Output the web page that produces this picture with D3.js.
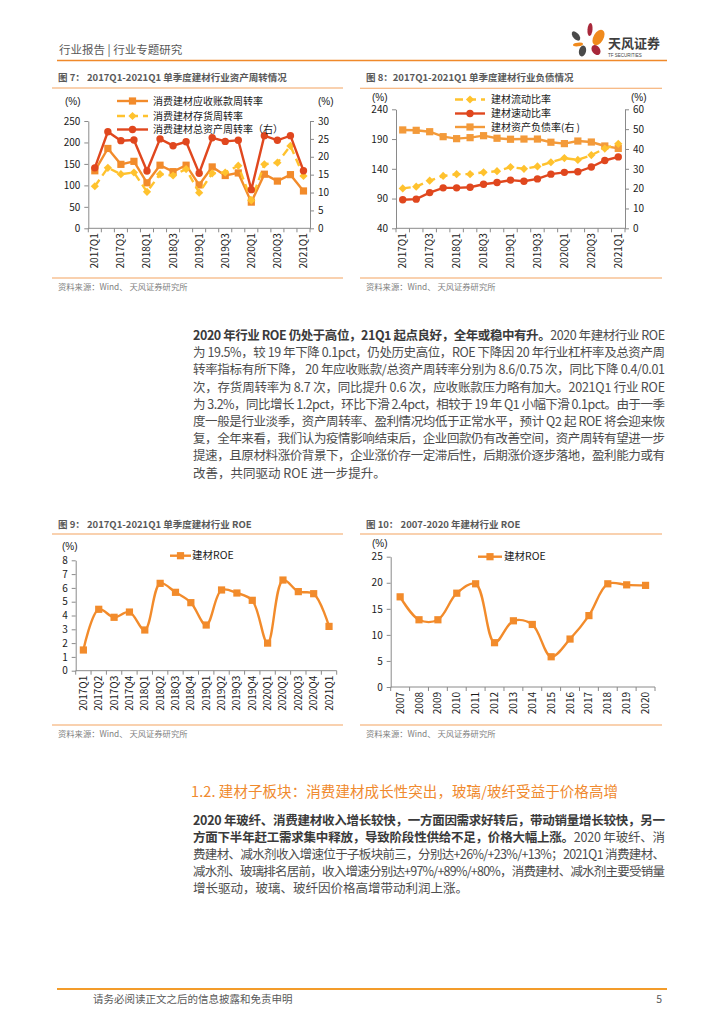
<!DOCTYPE html>
<html>
<head>
<meta charset="utf-8">
<script src="https://cdn.jsdelivr.net/npm/d3@7"></script>
<style>
  body { margin: 0; background: #fff; }
  svg text { font-family: "Noto Sans CJK SC", "Liberation Sans", sans-serif; }
  .num text, text.num { font-family: "Liberation Sans", Arial, sans-serif; }
</style>
</head>
<body>
<svg id="page" width="724" height="1024"></svg>
<script>
// ---- data ----
const quarters = ["2017Q1","2017Q2","2017Q3","2017Q4","2018Q1","2018Q2","2018Q3","2018Q4",
  "2019Q1","2019Q2","2019Q3","2019Q4","2020Q1","2020Q2","2020Q3","2020Q4","2021Q1"];
const years = ["2007","2008","2009","2010","2011","2012","2013","2014","2015","2016","2017","2018","2019","2020"];

// 图7 资产周转
const arTurnover = [134,186,149,156,106,147,132,147,101,143,123,129,61,126,110,125,87];
const invTurnover = [98,141,126,130,85,126,123,138,83,128,130,146,65,149,153,192,122];
const assetTurnover = [16.9,27.0,24.5,24.7,16.0,25.0,23.1,24.2,15.4,25.3,24.3,24.6,10.8,25.9,24.6,25.9,16.1];
const ticks7L = [0,50,100,150,200,250];
const ticks7R = [0,5,10,15,20,25,30];

// 图8 负债
const currentRatio = [107,110,120,128,131,131,134,136,143,140,144,151,158,155,163,174,182];
const quickRatio = [88,89,100,108,108,109,114,117,121,119,123,131,134,135,143,154,160];
const debtRatio = [49.6,49.4,48.7,46.2,45.2,45.7,46.7,45.4,44.9,45.0,45.0,43.4,42.7,44.0,43.5,41.5,40.3];
const ticks8L = [40,90,140,190,240];
const ticks8R = [0,10,20,30,40,50,60];

// 图9 单季度ROE
const roeQuarter = [1.5,4.45,3.87,4.25,2.95,6.33,5.68,4.93,3.31,5.85,5.63,5.10,2.0,6.57,5.73,5.58,3.21];
const ticks9 = [0,1,2,3,4,5,6,7,8];

// 图10 年度ROE
const roeYear = [17.3,12.9,12.9,18.0,19.8,8.5,12.7,12.0,5.8,9.2,13.7,19.8,19.6,19.5];
const ticks10 = [0,5,10,15,20,25];

const para1 = [
  [["b","2020 年行业 ROE 仍处于高位，21Q1 起点良好，全年或稳中有升。"],["n","2020 年建材行业 ROE"]],
  [["n","为 19.5%，较 19 年下降 0.1pct，仍处历史高位，ROE 下降因 20 年行业杠杆率及总资产周"]],
  [["n","转率指标有所下降，  20 年应收账款/总资产周转率分别为 8.6/0.75 次，同比下降 0.4/0.01"]],
  [["n","次，存货周转率为 8.7 次，同比提升 0.6 次，应收账款压力略有加大。2021Q1 行业 ROE"]],
  [["n","为 3.2%，同比增长 1.2pct，环比下滑 2.4pct，相较于 19 年 Q1 小幅下滑 0.1pct。由于一季"]],
  [["n","度一般是行业淡季，资产周转率、盈利情况均低于正常水平，预计 Q2 起 ROE 将会迎来恢"]],
  [["n","复，全年来看，我们认为疫情影响结束后，企业回款仍有改善空间，资产周转有望进一步"]],
  [["n","提速，且原材料涨价背景下，企业涨价存一定滞后性，后期涨价逐步落地，盈利能力或有"]],
  [["n","改善，共同驱动 ROE 进一步提升。"]]
];
const para2 = [
  [["b","2020 年玻纤、消费建材收入增长较快，一方面因需求好转后，带动销量增长较快，另一"]],
  [["b","方面下半年赶工需求集中释放，导致阶段性供给不足，价格大幅上涨。"],["n","2020 年玻纤、消"]],
  [["n","费建材、减水剂收入增速位于子板块前三，分别达+26%/+23%/+13%；2021Q1 消费建材、"]],
  [["n","减水剂、玻璃排名居前，收入增速分别达+97%/+89%/+80%，消费建材、减水剂主要受销量"]],
  [["n","增长驱动，玻璃、玻纤因价格高增带动利润上涨。"]]
];

const ORANGE = "#F28B2B", YELLOW = "#FFC22E", RED = "#E0471E";
const AXIS = "#8a8a8a", LINE_O = "#F4A460";

const svg = d3.select("#page");
svg.append("rect").attr("width", 724).attr("height", 1024).attr("fill", "#fff");

// ---- header ----
svg.append("text").attr("x", 59).attr("y", 54).attr("font-size", 11.5).attr("fill", "#595959")
  .text("行业报告 | 行业专题研究");
svg.append("line").attr("x1", 57).attr("x2", 667).attr("y1", 60.5).attr("y2", 60.5)
  .attr("stroke", "#F0892A").attr("stroke-width", 1.6);

const logo = svg.append("g");
[[590,29.5,2.5,6.5,5,"#A8283A"],[598.5,37.5,5,8.5,30,"#F08A1C"],[576,36,3,5.5,-40,"#4a4a4a"],
 [578,44.5,5,1.8,-5,"#F08A1C"],[582.5,51,3.5,5.5,15,"#4a4a4a"],[596,50,4,5.5,-35,"#A8283A"]]
  .forEach(p => {
    logo.append("ellipse").attr("cx", 0).attr("cy", 0).attr("rx", p[2]).attr("ry", p[3])
      .attr("fill", p[5]).attr("transform", `translate(${p[0]},${p[1]}) rotate(${p[4]})`);
  });
svg.append("text").attr("x", 608).attr("y", 48).attr("font-size", 13).attr("font-weight", 700)
  .attr("fill", "#3f3f3f").text("天风证券");
svg.append("text").attr("x", 608).attr("y", 57).attr("font-size", 4.5).attr("fill", "#3f3f3f")
  .attr("class", "num").text("TF SECURITIES");

// ---- footer ----
svg.append("line").attr("x1", 57).attr("x2", 667).attr("y1", 989).attr("y2", 989)
  .attr("stroke", "#F39C2A").attr("stroke-width", 2);
svg.append("text").attr("x", 93).attr("y", 1003).attr("font-size", 10.5).attr("fill", "#595959")
  .text("请务必阅读正文之后的信息披露和免责申明");
svg.append("text").attr("x", 662).attr("y", 1003).attr("font-size", 10.5).attr("fill", "#595959")
  .attr("text-anchor", "end").text("5");

// ---- helpers ----
function frame(x0, x1, titleY, lineY, bottomY, title) {
  svg.append("text").attr("x", x0 + 6).attr("y", titleY).attr("font-size", 9.5)
    .attr("font-weight", 700).attr("fill", "#595959").text(title);
  svg.append("line").attr("x1", x0).attr("x2", x1).attr("y1", lineY).attr("y2", lineY)
    .attr("stroke", LINE_O).attr("stroke-width", 1.1);
  svg.append("line").attr("x1", x0).attr("x2", x1).attr("y1", bottomY).attr("y2", bottomY)
    .attr("stroke", LINE_O).attr("stroke-width", 1.1);
  svg.append("text").attr("x", x0 + 6).attr("y", bottomY + 12).attr("font-size", 8.3)
    .attr("fill", "#7f7f7f").text("资料来源：Wind、 天风证券研究所");
}

function styleAxis(g) {
  g.selectAll(".domain").attr("stroke", AXIS).attr("stroke-width", 1);
  g.selectAll(".tick line").attr("stroke", AXIS);
  g.selectAll("text").attr("font-size", 10).attr("fill", "#1a1a1a")
    .attr("font-family", "Liberation Sans, Arial, sans-serif");
}

function yAxis(scale, ticks, x, side) {
  const ax = (side === "left" ? d3.axisLeft(scale) : d3.axisRight(scale))
    .tickValues(ticks).tickSize(4).tickPadding(4).tickSizeOuter(0);
  const g = svg.append("g").attr("transform", `translate(${x},0)`).call(ax);
  styleAxis(g);
  return g;
}

function xAxis(band, y, every) {
  const ax = d3.axisBottom(band).tickSize(0).tickPadding(0)
    .tickFormat((d, i) => (i % every === 0 ? d : ""));
  const g = svg.append("g").attr("transform", `translate(0,${y})`).call(ax);
  styleAxis(g);
  g.selectAll(".domain").remove();
  g.append("line").attr("x1", band.range()[0]).attr("x2", band.range()[1])
    .attr("stroke", AXIS);
  g.selectAll(".tick text").attr("transform", "rotate(-90)").attr("text-anchor", "end")
    .attr("x", -5).attr("y", 0).attr("dy", "0.35em");
  // category boundary ticks
  const n = band.domain().length;
  d3.range(n + 1).forEach(i => {
    const xx = band.range()[0] + i * band.step();
    g.append("line").attr("x1", xx).attr("x2", xx).attr("y1", 0).attr("y2", 4).attr("stroke", AXIS);
  });
}

function marker(g, type, x, y, color) {
  if (type === "square") {
    g.append("rect").attr("x", x - 3.6).attr("y", y - 3.6).attr("width", 7.2).attr("height", 7.2)
      .attr("fill", color);
  } else if (type === "circle") {
    g.append("circle").attr("cx", x).attr("cy", y).attr("r", 3.7).attr("fill", color);
  } else {
    g.append("rect").attr("x", -2.9).attr("y", -2.9).attr("width", 5.8).attr("height", 5.8)
      .attr("fill", color).attr("transform", `translate(${x},${y}) rotate(45)`);
  }
}

function series(band, yScale, values, color, type, dashed, curve) {
  const g = svg.append("g");
  const cx = (d, i) => band(band.domain()[i]) + band.bandwidth() / 2;
  const line = d3.line().x(cx).y(d => yScale(d)).curve(curve || d3.curveLinear);
  g.append("path").attr("d", line(values)).attr("fill", "none").attr("stroke", color)
    .attr("stroke-width", 2.4).attr("stroke-dasharray", dashed ? "8,5" : null);
  values.forEach((v, i) => marker(g, type, cx(v, i), yScale(v), color));
}

function legendItem(x1, x2, y, tx, label, color, type, dashed, fs) {
  const g = svg.append("g");
  g.append("line").attr("x1", x1).attr("x2", x2).attr("y1", y).attr("y2", y)
    .attr("stroke", color).attr("stroke-width", 2.4).attr("stroke-dasharray", dashed ? "8,5" : null);
  marker(g, type, (x1 + x2) / 2, y, color);
  g.append("text").attr("x", tx).attr("y", y).attr("dy", "0.36em").attr("font-size", fs || 10)
    .attr("fill", "#1a1a1a").text(label);
}

function unit(x, y, anchor) {
  svg.append("text").attr("x", x).attr("y", y).attr("font-size", 10).attr("fill", "#1a1a1a")
    .attr("text-anchor", anchor || "start").attr("class", "num").text("(%)");
}

// ---- 图7 ----
frame(52, 343, 81, 88, 278, "图 7：  2017Q1-2021Q1 单季度建材行业资产周转情况");
const x7 = d3.scaleBand().domain(quarters).range([88.3, 310]);
const yL7 = d3.scaleLinear().domain([0, 250]).range([228.3, 121]);
const yR7 = d3.scaleLinear().domain([0, 30]).range([228.3, 121]);
yAxis(yL7, ticks7L, 88.3, "left");
yAxis(yR7, ticks7R, 310, "right");
xAxis(x7, 228.3, 2);
unit(65, 105); unit(318, 105);
series(x7, yL7, arTurnover, ORANGE, "square", false);
series(x7, yL7, invTurnover, YELLOW, "diamond", true);
series(x7, yR7, assetTurnover, RED, "circle", false);
legendItem(117, 148, 101, 153, "消费建材应收账款周转率", ORANGE, "square", false);
legendItem(117, 148, 116, 153, "消费建材存货周转率", YELLOW, "diamond", true);
legendItem(117, 148, 129.5, 153, "消费建材总资产周转率（右）", RED, "circle", false);

// ---- 图8 ----
frame(360, 662, 81, 88.3, 278, "图 8：2017Q1-2021Q1 单季度建材行业负债情况");
const x8 = d3.scaleBand().domain(quarters).range([396, 625]);
const yL8 = d3.scaleLinear().domain([40, 240]).range([228.3, 109.3]);
const yR8 = d3.scaleLinear().domain([0, 60]).range([228.3, 109.3]);
yAxis(yL8, ticks8L, 396, "left");
yAxis(yR8, ticks8R, 625, "right");
xAxis(x8, 228.3, 2);
unit(372, 100.5); unit(631, 100.5);
series(x8, yR8, debtRatio, "#F39A3A", "square", false);
series(x8, yL8, currentRatio, YELLOW, "diamond", true);
series(x8, yL8, quickRatio, RED, "circle", false);
legendItem(455, 485, 99.5, 491, "建材流动比率", YELLOW, "diamond", true);
legendItem(455, 485, 113.5, 491, "建材速动比率", RED, "circle", false);
legendItem(455, 485, 127, 491, "建材资产负债率(右 )", "#F39A3A", "square", false);

// ---- 正文1 ----
function paragraph(lines, y0, dy) {
  lines.forEach((parts, i) => {
    const t = svg.append("text").attr("x", 193).attr("y", y0 + i * dy).attr("font-size", 12.5);
    parts.forEach(p => {
      t.append("tspan").attr("font-weight", p[0] === "b" ? 700 : 400)
        .attr("fill", p[0] === "b" ? "#3a3a3a" : "#4d4d4d").text(p[1]);
    });
    if (i < lines.length - 1) t.attr("textLength", 472).attr("lengthAdjust", "spacing");
  });
}
paragraph(para1, 340, 17.2);

// ---- 图9 ----
frame(52, 343, 528, 534, 725, "图 9：  2017Q1-2021Q1 单季度建材行业 ROE");
const x9 = d3.scaleBand().domain(quarters).range([75.7, 336.7]);
const y9 = d3.scaleLinear().domain([0, 8]).range([670.7, 560.3]);
yAxis(y9, ticks9, 75.7, "left");
xAxis(x9, 670.7, 1);
unit(62, 550);
series(x9, y9, roeQuarter, ORANGE, "square", false, d3.curveCatmullRom.alpha(0.5));
legendItem(170, 191, 555.7, 192, "建材ROE", ORANGE, "square", false, 10.5);

// ---- 图10 ----
frame(360, 662, 528, 534, 725, "图 10：  2007-2020 年建材行业 ROE");
const x10 = d3.scaleBand().domain(years).range([390.7, 655]);
const y10 = d3.scaleLinear().domain([0, 25]).range([687, 556.7]);
yAxis(y10, ticks10, 390.7, "left");
xAxis(x10, 687, 1);
unit(372, 547);
series(x10, y10, roeYear, ORANGE, "square", false, d3.curveCatmullRom.alpha(0.5));
legendItem(478, 502, 556.7, 504, "建材ROE", ORANGE, "square", false, 10.5);

// ---- 小节 ----
svg.append("text").attr("x", 191).attr("y", 796.5).attr("font-size", 14.5).attr("fill", "#F08A2E")
  .attr("textLength", 427).attr("lengthAdjust", "spacing")
  .text("1.2. 建材子板块：消费建材成长性突出，玻璃/玻纤受益于价格高增");
paragraph(para2, 824.5, 17);
</script>
</body>
</html>
